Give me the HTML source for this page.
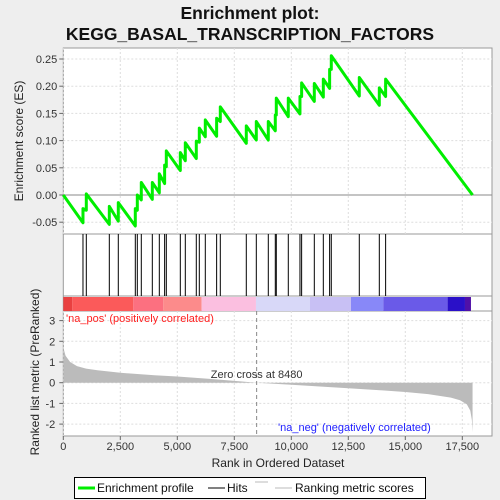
<!DOCTYPE html>
<html><head><meta charset="utf-8"><style>
body{margin:0;background:#eeeeee;font-family:"Liberation Sans",sans-serif}
svg{display:block}
</style></head><body>
<svg id="chart" width="500" height="500" xmlns="http://www.w3.org/2000/svg"></svg>
<script>
const hitRanks=[863,1009,2018,2412,3158,3246,3421,3904,4211,4444,4518,5132,5351,5833,5965,6228,6725,6886,8026,8465,8991,9298,9342,9868,10380,10453,11009,11404,11681,11754,12982,13860,14137];
const esBefore=[-0.051,-0.028,-0.054,-0.048,-0.057,-0.028,-0.009,-0.008,0.004,0.021,0.052,0.045,0.063,0.067,0.097,0.107,0.108,0.135,0.095,0.101,0.101,0.118,0.147,0.144,0.149,0.181,0.172,0.180,0.196,0.231,0.182,0.165,0.181];
const esAfter=[-0.025,0.002,-0.021,-0.014,-0.025,0.000,0.023,0.023,0.039,0.055,0.081,0.078,0.096,0.099,0.123,0.138,0.141,0.162,0.127,0.135,0.135,0.147,0.178,0.178,0.181,0.206,0.205,0.213,0.231,0.256,0.216,0.197,0.213];
const totalN=17950;
const metricRanks=[0,100,300,600,1000,1500,2500,4000,5000,6500,8480,10000,12500,14000,15000,16000,17000,17400,17700,17850,17920,17950];
const metricVals=[1.7,1.3,1.0,0.8,0.68,0.6,0.48,0.36,0.3,0.18,0,-0.1,-0.27,-0.37,-0.45,-0.55,-0.72,-0.85,-1.05,-1.35,-1.8,-2.4];
const xTicks=[0,2500,5000,7500,10000,12500,15000,17500];
const esTicks=[-0.05,0,0.05,0.1,0.15,0.2,0.25];
const mTicks=[-2,-1,0,1,2,3];
const barStops=[0,395,3070,4386,6067,8450,10819,12617,14035,16856,17617,17880];
const barColors=["#e94040","#fb5a5a","#fc7080","#fc8b8b","#fbbfe0","#d8d8f8","#c8c0f4","#8888f8","#6a5ae8","#2a10c8","#5010a8"];

const NS="http://www.w3.org/2000/svg";
const svg=document.getElementById('chart');
const L=63.3,R=492;
const X=r=>L+r*(399/17500);
const Yes=v=>195-v*(136/0.25);
const Ym=v=>382.7-v*20.7;
function el(tag,attrs,parent){const e=document.createElementNS(NS,tag);for(const k in attrs)e.setAttribute(k,attrs[k]);(parent||svg).appendChild(e);return e;}
function txt(s,attrs){const t=el('text',attrs);t.textContent=s;return t;}

let t=txt("Enrichment plot:",{x:250,y:19,"text-anchor":"middle","font-size":"17.5","font-weight":"bold",fill:"#111"});

t=txt("KEGG_BASAL_TRANSCRIPTION_FACTORS",{x:250,y:40,"text-anchor":"middle","font-size":"17.5","font-weight":"bold",fill:"#111"});


let p=el('rect',{x:L,y:48,width:R-L,height:186,fill:"#fff",stroke:"#999"});

p=el('rect',{x:L,y:234,width:R-L,height:202,fill:"#fff",stroke:"#999"});

el('line',{x1:L,x2:R,y1:296,y2:296,stroke:"#999"});
el('line',{x1:L,x2:R,y1:311,y2:311,stroke:"#999"});

xTicks.forEach(v=>{
 el('line',{x1:X(v),x2:X(v),y1:48,y2:234,stroke:"#ddd","stroke-dasharray":"2,2"});
 el('line',{x1:X(v),x2:X(v),y1:311,y2:436,stroke:"#ddd","stroke-dasharray":"2,2"});
 el('line',{x1:X(v),x2:X(v),y1:436,y2:440,stroke:"#666"});
 const tk=txt(v.toLocaleString('en-US'),{x:X(v),y:450,"text-anchor":"middle","font-size":"11",fill:"#333"});
 
});
esTicks.forEach(v=>{
 if(v!==0)el('line',{x1:L,x2:R,y1:Yes(v),y2:Yes(v),stroke:"#ddd","stroke-dasharray":"2,2"});
 el('line',{x1:L-4,x2:L,y1:Yes(v),y2:Yes(v),stroke:"#666"});
 const tk=txt(v.toFixed(2),{x:L-6,y:Yes(v)+4,"text-anchor":"end","font-size":"11",fill:"#333"});
 
});
el('line',{x1:L,x2:R,y1:Yes(0),y2:Yes(0),stroke:"#888"});
mTicks.forEach(v=>{
 el('line',{x1:L,x2:R,y1:Ym(v),y2:Ym(v),stroke:"#ddd","stroke-dasharray":"2,2"});
 el('line',{x1:L-4,x2:L,y1:Ym(v),y2:Ym(v),stroke:"#666"});
 const tk=txt(String(v),{x:L-8,y:Ym(v)+4,"text-anchor":"end","font-size":"11",fill:"#333"});
 
});

for(let i=0;i<barColors.length;i++){
 const r=el('rect',{x:X(barStops[i]),y:297,width:X(barStops[i+1])-X(barStops[i]),height:14,fill:barColors[i]});
 
}

hitRanks.forEach(h=>{
 const l=el('line',{x1:X(h),x2:X(h),y1:234,y2:296,stroke:"#000","stroke-width":"1"});
 
});

let pts=[[0,0]];
hitRanks.forEach((h,i)=>{pts.push([h,esBefore[i]]);pts.push([h,esAfter[i]]);});
pts.push([totalN,0]);
const es=el('polyline',{points:pts.map(q=>X(q[0])+","+Yes(q[1])).join(" "),fill:"none",stroke:"#00ee00","stroke-width":"3","stroke-linejoin":"round"});


let mp=[[X(0),Ym(0)]];
metricRanks.forEach((r,i)=>mp.push([X(r),Ym(metricVals[i])]));
mp.push([X(totalN),Ym(0)]);
const ar=el('polygon',{points:mp.map(q=>q.join(",")).join(" "),fill:"#bbbbbb"});


el('line',{x1:X(8480),x2:X(8480),y1:311,y2:436,stroke:"#888","stroke-dasharray":"4,3"});
t=txt("Zero cross at 8480",{x:X(8480),y:378,"text-anchor":"middle","font-size":"11",fill:"#333"});

t=txt("'na_pos' (positively correlated)",{x:66,y:322,"font-size":"11",fill:"#ff2020"});

t=txt("'na_neg' (negatively correlated)",{x:278,y:431,"font-size":"11",fill:"#2020ff"});


t=txt("Enrichment score (ES)",{x:0,y:0,transform:"translate(23,141) rotate(-90)","text-anchor":"middle","font-size":"12",fill:"#222"});

t=txt("Ranked list metric (PreRanked)",{x:0,y:0,transform:"translate(39,372) rotate(-90)","text-anchor":"middle","font-size":"12",fill:"#222"});

t=txt("Rank in Ordered Dataset",{x:278,y:467,"text-anchor":"middle","font-size":"12",fill:"#222"});


const lg=el('rect',{x:74.5,y:477.5,width:351,height:21,fill:"#fff",stroke:"#000"});

el('line',{x1:78,x2:95,y1:488,y2:488,stroke:"#00ee00","stroke-width":"3"});
t=txt("Enrichment profile",{x:97,y:492,"font-size":"12",fill:"#111"});

el('line',{x1:208,x2:225,y1:488,y2:488,stroke:"#000","stroke-width":"1"});
t=txt("Hits",{x:227,y:492,"font-size":"12",fill:"#111"});

el('line',{x1:255,x2:268,y1:482,y2:482,stroke:"#bbb","stroke-width":"1"});
el('line',{x1:275,x2:292,y1:488,y2:488,stroke:"#bbb","stroke-width":"1"});
t=txt("Ranking metric scores",{x:295,y:492,"font-size":"12",fill:"#111"});

</script>
</body></html>
